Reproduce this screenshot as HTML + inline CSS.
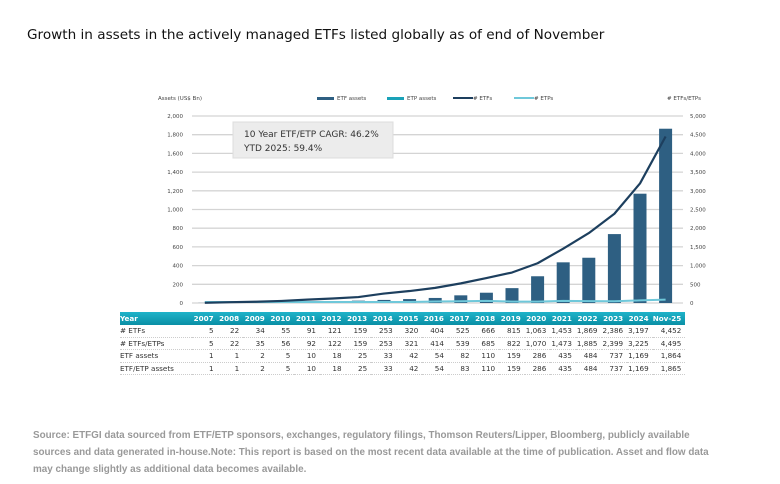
<!DOCTYPE html>
<html><head><meta charset="utf-8"><style>
body{margin:0;background:#fff;width:780px;height:484px;overflow:hidden;position:relative;font-family:"DejaVu Sans","Liberation Sans",sans-serif}
.t{position:absolute;left:27px;top:27px;font-size:13.6px;color:#111;white-space:nowrap}
.f{position:absolute;left:33px;font-family:"Liberation Sans",sans-serif;font-size:9.9px;color:#999;font-weight:bold;white-space:nowrap}
table{position:absolute;left:120px;top:312px;border-collapse:collapse;font-size:7.2px;color:#333;table-layout:fixed}
td{padding:0;height:11.6px;text-align:right;border-bottom:1px dotted #ccc;padding-right:4px;white-space:nowrap}
td:first-child{text-align:left;width:68px}
tr.h td{background:linear-gradient(#1fb3c9,#0a8fa5);color:#fff;font-weight:bold;height:13px;border:none}
</style></head><body>
<div class="t">Growth in assets in the actively managed ETFs listed globally as of end of November</div>
<svg width="780" height="484" style="position:absolute;left:0;top:0" font-family="DejaVu Sans,Liberation Sans,sans-serif">
<g font-size="5.5" fill="#444">
<text x="158" y="100">Assets (US$ Bn)</text>
<rect x="317" y="97" width="17" height="3" fill="#2e5f82"/><text x="337" y="100">ETF assets</text>
<rect x="387" y="97" width="17" height="3" fill="#1aa2b8"/><text x="407" y="100">ETP assets</text>
<rect x="453" y="97" width="20" height="2" fill="#1d3f5e"/><text x="473" y="100"># ETFs</text>
<rect x="514" y="97" width="20" height="2" fill="#6fc8da"/><text x="534" y="100"># ETPs</text>
<text x="667" y="100"># ETFs/ETPs</text>
</g>
<g id="grid" stroke="#d4d4d4" stroke-width="1.3"></g>
<g id="lab" font-size="5.5" fill="#444"></g>
<g id="bars" fill="#2e5f82"></g>
<polyline id="l2" fill="none" stroke="#6fc8da" stroke-width="2"/>
<polyline id="l1" fill="none" stroke="#1d3f5e" stroke-width="2.2" stroke-linejoin="round"/>
<rect x="233" y="122" width="160" height="36" fill="#ececec" stroke="#ddd"/>
<text x="244" y="137" font-size="9" fill="#333">10 Year ETF/ETP CAGR: 46.2%</text>
<text x="244" y="151" font-size="9" fill="#333">YTD 2025: 59.4%</text>
</svg>
<table>
<tr class="h"><td>Year</td><td>2007</td><td>2008</td><td>2009</td><td>2010</td><td>2011</td><td>2012</td><td>2013</td><td>2014</td><td>2015</td><td>2016</td><td>2017</td><td>2018</td><td>2019</td><td>2020</td><td>2021</td><td>2022</td><td>2023</td><td>2024</td><td>Nov-25</td></tr>
<tr><td># ETFs</td><td>5</td><td>22</td><td>34</td><td>55</td><td>91</td><td>121</td><td>159</td><td>253</td><td>320</td><td>404</td><td>525</td><td>666</td><td>815</td><td>1,063</td><td>1,453</td><td>1,869</td><td>2,386</td><td>3,197</td><td>4,452</td></tr>
<tr><td># ETFs/ETPs</td><td>5</td><td>22</td><td>35</td><td>56</td><td>92</td><td>122</td><td>159</td><td>253</td><td>321</td><td>414</td><td>539</td><td>685</td><td>822</td><td>1,070</td><td>1,473</td><td>1,885</td><td>2,399</td><td>3,225</td><td>4,495</td></tr>
<tr><td>ETF assets</td><td>1</td><td>1</td><td>2</td><td>5</td><td>10</td><td>18</td><td>25</td><td>33</td><td>42</td><td>54</td><td>82</td><td>110</td><td>159</td><td>286</td><td>435</td><td>484</td><td>737</td><td>1,169</td><td>1,864</td></tr>
<tr><td>ETF/ETP assets</td><td>1</td><td>1</td><td>2</td><td>5</td><td>10</td><td>18</td><td>25</td><td>33</td><td>42</td><td>54</td><td>83</td><td>110</td><td>159</td><td>286</td><td>435</td><td>484</td><td>737</td><td>1,169</td><td>1,865</td></tr>
</table>
<div class="f" style="top:430px">Source: ETFGI data sourced from ETF/ETP sponsors, exchanges, regulatory filings, Thomson Reuters/Lipper, Bloomberg, publicly available</div>
<div class="f" style="top:447px">sources and data generated in-house.Note: This report is based on the most recent data available at the time of publication. Asset and flow data</div>
<div class="f" style="top:464px">may change slightly as additional data becomes available.</div>
<script>
var ns="http://www.w3.org/2000/svg";
function el(p,t,a,txt){var e=document.createElementNS(ns,t);for(var k in a)e.setAttribute(k,a[k]);if(txt)e.textContent=txt;document.getElementById(p).appendChild(e);}
var y0=303,H=187;
for(var i=0;i<=10;i++){var y=y0-H*i/10;el("grid","line",{x1:192,x2:683,y1:y,y2:y});
el("lab","text",{x:183,y:y+2,"text-anchor":"end"},(i*200).toLocaleString("en-US"));
el("lab","text",{x:690,y:y+2},(i*500).toLocaleString("en-US"));}
var A=[1,1,2,5,10,18,25,33,42,54,82,110,159,286,435,484,737,1169,1864];
var E=[5,22,34,55,91,121,159,253,320,404,525,666,815,1063,1453,1869,2386,3197,4452];
var P=[5,22,35,56,92,122,159,253,321,414,539,685,822,1070,1473,1885,2399,3225,4495];
var p1=[],p2=[];
for(var i=0;i<19;i++){var cx=204.8+i*25.6,h=A[i]*H/2000;
el("bars","rect",{x:cx-6.5,y:y0-h,width:13,height:h});
p1.push(cx+","+(y0-E[i]*H/5000));p2.push(cx+","+(y0-1-(P[i]-E[i])*H/5000*1.5));}
document.getElementById("l1").setAttribute("points",p1.join(" "));
document.getElementById("l2").setAttribute("points",p2.join(" "));
var tds=document.querySelectorAll("tr td:not(:first-child)");tds.forEach(function(t){t.style.width="21.6px"});
</script>
</body></html>
